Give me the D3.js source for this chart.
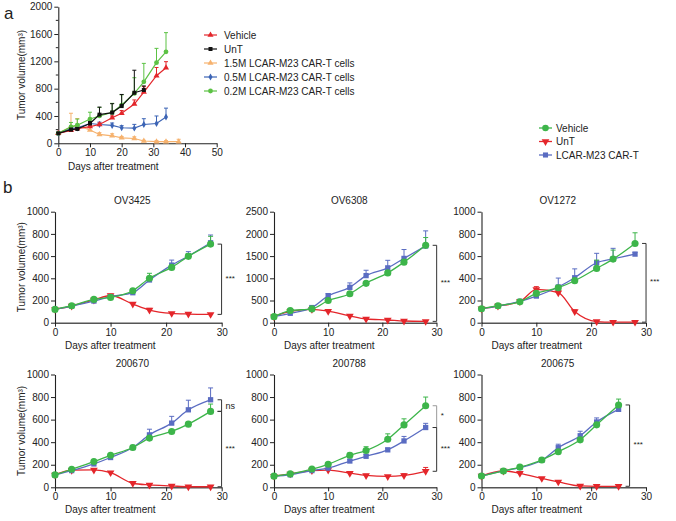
<!DOCTYPE html>
<html><head><meta charset="utf-8">
<script src="https://cdn.jsdelivr.net/npm/d3@7"></script>
<style>
body{margin:0;background:#fff}
svg{display:block}
text{font-family:"Liberation Sans",Arial,sans-serif;fill:#222}
</style>
</head><body><svg id="c" width="676" height="521"></svg>
<script>
// ---------- Panel a data ----------
const aTitleX = "Days after treatment";
const aXTicks = [0,10,20,30,40,50];
const aYTicks = [0,400,800,1200,1600,2000];
const aLegend = ["Vehicle","UnT","1.5M LCAR-M23 CAR-T cells","0.5M LCAR-M23 CAR-T cells","0.2M LCAR-M23 CAR-T cells"];
const aVehDays = [0,4,6,10,13,17,20,24,27,31,34];
const aVeh     = [146,190,215,245,275,375,440,575,750,990,1105];
const aVehErr  = [10,15,15,20,20,25,40,60,80,120,90];
const aUntDays = [0,4,6,10,13,17,20,24,27];
const aUnt     = [146,200,210,290,420,450,545,740,780];
const aUntErr  = [10,20,20,30,110,130,170,330,60];
const a15Days  = [0,4,6,10,13,17,20,24,27,31,34,38];
const a15      = [146,240,262,195,130,110,80,70,34,24,24,24];
const a15Err   = [10,200,100,40,25,30,20,25,10,15,15,35];
const a05Days  = [0,4,6,10,13,17,20,24,27,31,34];
const a05      = [146,215,225,290,275,262,228,222,275,290,385];
const a05Err   = [10,20,25,30,35,35,30,55,85,110,130];
const a02Days  = [0,4,6,10,13,17,20,24,27,31,34];
const a02      = [146,240,265,355,400,450,560,730,900,1180,1340];
const a02Err   = [15,65,90,100,125,135,150,230,270,210,280];

// ---------- Panel b data ----------
const bLegend = ["Vehicle","UnT","LCAR-M23 CAR-T"];
const bXTicks = [0,10,20,30];
const bDays   = [0,3,7,10,14,17,21,24,28];

const ov3425Veh = [120,153,210,228,288,400,498,598,708];
const ov3425VehErr = [8,10,12,12,15,45,20,25,70];
const ov3425Unt = [120,150,205,245,168,114,84,78,75];
const ov3425UntErr = [5,8,10,12,12,15,8,5,5];
const ov3425Car = [120,150,195,235,270,385,519,600,720];
const ov3425CarErr = [5,8,10,12,15,20,45,40,70];

const ov6308Veh = [136,273,311,500,652,887,1122,1364,1743];
const ov6308VehErr = [20,40,30,40,40,40,50,60,175];
const ov6308Unt = [136,255,300,260,152,83,61,38,30];
const ov6308UntErr = [10,20,20,20,20,15,10,10,10];
const ov6308Car = [136,212,341,606,796,1061,1235,1448,1728];
const ov6308CarErr = [20,30,40,50,100,120,170,200,340];

const ov1272Veh = [126,153,189,264,315,378,489,573,714];
const ov1272VehErr = [10,10,12,20,20,25,75,81,96];
const ov1272Unt = [126,150,190,300,270,100,10,5,5];
const ov1272UntErr = [8,8,10,25,20,15,5,3,3];
const ov1272Car = [126,150,192,240,322,405,540,575,618];
const ov1272CarErr = [8,10,12,15,80,80,85,95,15];

const p200670Veh = [110,160,228,284,353,436,495,560,673];
const p200670VehErr = [8,10,10,12,12,15,15,20,65];
const p200670Unt = [110,152,154,130,36,21,12,5,5];
const p200670UntErr = [5,8,10,10,8,5,3,2,2];
const p200670Car = [110,148,207,264,353,465,569,687,776];
const p200670CarErr = [8,10,10,12,15,50,60,85,105];

const p200788Veh = [99,119,162,204,284,326,426,553,723];
const p200788VehErr = [8,10,10,15,20,34,48,54,77];
const p200788Unt = [99,119,148,153,125,105,96,105,142];
const p200788UntErr = [5,8,8,10,10,10,8,15,34];
const p200788Car = [99,111,148,170,233,275,332,411,530];
const p200788CarErr = [8,8,10,10,12,15,15,40,37];

const p200675Days = [0,4,7,11,14,18,21,25];
const p200675Veh = [100,145,179,242,315,421,554,730];
const p200675VehErr = [8,10,10,10,12,15,15,52];
const p200675Unt = [100,145,124,79,48,12,9,9];
const p200675UntErr = [5,8,8,6,5,3,2,2];
const p200675Car = [100,145,175,240,351,457,579,691];
const p200675CarErr = [8,10,10,10,31,40,36,20];

// ---------- drawing ----------
const svg = d3.select("#c");
const FS = 10;
const fmt = d3.format("d");
const C = {veh:"#3db54a", unt:"#e4262b", car:"#5a6cc2",
           aVeh:"#e3262b", aUnt:"#111111", a15:"#f6b26e", a05:"#3c64b5", a02:"#5cc244"};

function styleAxis(g){
  g.selectAll(".domain").attr("stroke","#222").attr("stroke-width",1.1);
  g.selectAll(".tick line").attr("stroke","#222").attr("stroke-width",1);
  g.selectAll(".tick text").attr("font-size",FS).attr("fill","#222")
   .style("font-family",'"Liberation Sans",Arial,sans-serif');
}

function drawSeries(g, x, y, days, vals, errs, color, symType, symSize, rot, lw, capW, curve){
  const pts = days.map((d,i)=>({d, v:vals[i], e:errs[i]}));
  pts.forEach(p=>{
    const px = x(p.d), py = y(p.v), pt = y(p.v+p.e);
    g.append("line").attr("x1",px).attr("x2",px).attr("y1",py).attr("y2",pt)
      .attr("stroke",color).attr("stroke-width",1);
    g.append("line").attr("x1",px-capW).attr("x2",px+capW).attr("y1",pt).attr("y2",pt)
      .attr("stroke",color).attr("stroke-width",1);
  });
  g.append("path").datum(pts)
    .attr("d", d3.line().x(p=>x(p.d)).y(p=>y(p.v)).curve(curve||d3.curveLinear))
    .attr("fill","none").attr("stroke",color).attr("stroke-width",lw);
  const sym = d3.symbol().type(symType).size(symSize);
  g.selectAll(null).data(pts).enter().append("path")
    .attr("d", sym)
    .attr("transform", p=>`translate(${x(p.d)},${y(p.v)}) rotate(${rot})`)
    .attr("fill",color);
}

// ===== Panel a =====
(function(){
  const x = d3.scaleLinear().domain([0,50]).range([58.3,216.7]);
  const y = d3.scaleLinear().domain([0,2000]).range([143.3,6.7]);
  const g = svg.append("g");
  const ax = g.append("g").attr("transform",`translate(0,${y(0)})`)
    .call(d3.axisBottom(x).tickValues(aXTicks).tickFormat(fmt).tickSize(4).tickSizeOuter(0).tickPadding(2));
  styleAxis(ax);
  const ay = g.append("g").attr("transform",`translate(${x(0)},0)`)
    .call(d3.axisLeft(y).tickValues(aYTicks).tickFormat(fmt).tickSize(4).tickSizeOuter(0).tickPadding(2));
  styleAxis(ay);
  const minor = d3.range(200,2000,400);
  g.selectAll(null).data(minor).enter().append("line")
    .attr("x1",x(0)-2.5).attr("x2",x(0)).attr("y1",d=>y(d)).attr("y2",d=>y(d))
    .attr("stroke","#222");
  g.append("text").attr("x",68).attr("y",170).attr("font-size",FS).text(aTitleX);
  g.append("text").attr("transform",`translate(25,${(y(0)+y(2000))/2}) rotate(-90)`)
    .attr("text-anchor","middle").attr("font-size",FS).text("Tumor volume(mm³)");
  g.append("text").attr("x",4).attr("y",19).attr("font-size",17).text("a");

  const cw = 2;
  drawSeries(g,x,y,a15Days,a15,a15Err,C.a15,d3.symbolTriangle,16,0,1.2,cw);
  drawSeries(g,x,y,a05Days,a05,a05Err,C.a05,d3.symbolDiamond,14,0,1.2,cw);
  drawSeries(g,x,y,aVehDays,aVeh,aVehErr,C.aVeh,d3.symbolTriangle,16,0,1.2,cw);
  drawSeries(g,x,y,a02Days,a02,a02Err,C.a02,d3.symbolCircle,18,0,1.2,cw);
  drawSeries(g,x,y,aUntDays,aUnt,aUntErr,C.aUnt,d3.symbolSquare,16,0,1.2,cw);

  const items = [
    [C.aVeh,d3.symbolTriangle,16],[C.aUnt,d3.symbolSquare,16],[C.a15,d3.symbolTriangle,16],
    [C.a05,d3.symbolDiamond,14],[C.a02,d3.symbolCircle,18]];
  items.forEach((it,i)=>{
    const yy = 35 + i*14;
    g.append("line").attr("x1",204).attr("x2",217).attr("y1",yy).attr("y2",yy)
      .attr("stroke",it[0]).attr("stroke-width",1.2);
    g.append("path").attr("d",d3.symbol().type(it[1]).size(it[2]))
      .attr("transform",`translate(210.5,${yy})`).attr("fill",it[0]);
    g.append("text").attr("x",224).attr("y",yy).attr("dy","0.35em")
      .attr("font-size",FS).text(aLegend[i]);
  });
})();

// ===== Panel b =====
svg.append("text").attr("x",3).attr("y",193).attr("font-size",17).text("b");
(function(){
  const items = [[C.veh,d3.symbolCircle,34,0],[C.unt,d3.symbolTriangle,26,180],[C.car,d3.symbolSquare,26,0]];
  items.forEach((it,i)=>{
    const yy = 128 + i*13.5;
    svg.append("line").attr("x1",539).attr("x2",552).attr("y1",yy).attr("y2",yy)
      .attr("stroke",it[0]).attr("stroke-width",1.3);
    svg.append("path").attr("d",d3.symbol().type(it[1]).size(it[2]))
      .attr("transform",`translate(545.5,${yy}) rotate(${it[3]})`).attr("fill",it[0]);
    svg.append("text").attr("x",556).attr("y",yy).attr("dy","0.35em")
      .attr("font-size",FS).text(bLegend[i]);
  });
})();

const cols = [{x0:55,x1:221.7},{x0:274,x1:436.5},{x0:481.5,x1:646}];
const rows = [{y0:322.7,y1:211.7},{y0:487.3,y1:374.5}];

const panels = [
  {title:"OV3425", days:bDays, veh:ov3425Veh, vehE:ov3425VehErr, unt:ov3425Unt, untE:ov3425UntErr, car:ov3425Car, carE:ov3425CarErr,
   yTicks:[0,200,400,600,800,1000], col:0,row:0, ylab:true, br:[["veh","unt","***","#333"]]},
  {title:"OV6308", days:bDays, veh:ov6308Veh, vehE:ov6308VehErr, unt:ov6308Unt, untE:ov6308UntErr, car:ov6308Car, carE:ov6308CarErr,
   yTicks:[0,500,1000,1500,2000,2500], col:1,row:0, ylab:false, br:[["veh","unt","***","#333"]]},
  {title:"OV1272", days:bDays, veh:ov1272Veh, vehE:ov1272VehErr, unt:ov1272Unt, untE:ov1272UntErr, car:ov1272Car, carE:ov1272CarErr,
   yTicks:[0,200,400,600,800,1000], col:2,row:0, ylab:false, br:[["veh","unt","***","#333"]]},
  {title:"200670", days:bDays, veh:p200670Veh, vehE:p200670VehErr, unt:p200670Unt, untE:p200670UntErr, car:p200670Car, carE:p200670CarErr,
   yTicks:[0,200,400,600,800,1000], col:0,row:1, ylab:true, br:[["car","veh","ns","#333"],["veh","unt","***","#333"]]},
  {title:"200788", days:bDays, veh:p200788Veh, vehE:p200788VehErr, unt:p200788Unt, untE:p200788UntErr, car:p200788Car, carE:p200788CarErr,
   yTicks:[0,200,400,600,800,1000], col:1,row:1, ylab:false, br:[["veh","car","*","#999"],["car","unt","***","#333"]]},
  {title:"200675", days:p200675Days, veh:p200675Veh, vehE:p200675VehErr, unt:p200675Unt, untE:p200675UntErr, car:p200675Car, carE:p200675CarErr,
   yTicks:[0,200,400,600,800,1000], col:2,row:1, ylab:false, br:[["veh","unt","***","#333"]]}
];

panels.forEach(p=>{
  const c = cols[p.col], r = rows[p.row];
  const yMax = p.yTicks[p.yTicks.length-1];
  const x = d3.scaleLinear().domain([0,30]).range([c.x0,c.x1]);
  const y = d3.scaleLinear().domain([0,yMax]).range([r.y0,r.y1]);
  const g = svg.append("g");
  const ax = g.append("g").attr("transform",`translate(0,${r.y0})`)
    .call(d3.axisBottom(x).tickValues(bXTicks).tickFormat(fmt).tickSize(4).tickSizeOuter(0).tickPadding(2));
  styleAxis(ax);
  ax.select(".domain").attr("stroke","#555").attr("stroke-width",1.6);
  const ay = g.append("g").attr("transform",`translate(${c.x0},0)`)
    .call(d3.axisLeft(y).tickValues(p.yTicks).tickFormat(fmt).tickSize(4).tickSizeOuter(0).tickPadding(2));
  styleAxis(ay);
  g.append("text").attr("x",(c.x0+c.x1)/2-6).attr("y",r.y1-8).attr("text-anchor","middle")
    .attr("font-size",FS).text(p.title);
  g.append("text").attr("x",c.x0+10).attr("y",r.y0+26).attr("font-size",FS).text("Days after treatment");
  if(p.ylab){
    g.append("text").attr("transform",`translate(25,${(r.y0+r.y1)/2}) rotate(-90)`)
      .attr("text-anchor","middle").attr("font-size",FS).text("Tumor volume(mm³)");
  }
  const cw = 2.5;
  drawSeries(g,x,y,p.days,p.unt,p.untE,C.unt,d3.symbolTriangle,26,180,1.3,cw,d3.curveMonotoneX);
  drawSeries(g,x,y,p.days,p.car,p.carE,C.car,d3.symbolSquare,28,0,1.3,cw,d3.curveMonotoneX);
  drawSeries(g,x,y,p.days,p.veh,p.vehE,C.veh,d3.symbolCircle,40,0,1.3,cw,d3.curveMonotoneX);

  const last = p.days.length-1;
  const bx = x(p.days[last]) + 11;
  p.br.forEach(b=>{
    const yA = y(p[b[0]][last]), yB = y(p[b[1]][last]);
    g.append("path").attr("d",`M${bx-4},${yA}H${bx}V${yB}H${bx-4}`)
      .attr("fill","none").attr("stroke",b[3]).attr("stroke-width",1);
    g.append("text").attr("x",bx+4).attr("y",(yA+yB)/2).attr("dy", b[2]==="ns" ? "0.35em" : "0.2em")
      .attr("font-size", b[2]==="ns" ? 9 : 8).text(b[2]);
  });
});
</script>
</body></html>
